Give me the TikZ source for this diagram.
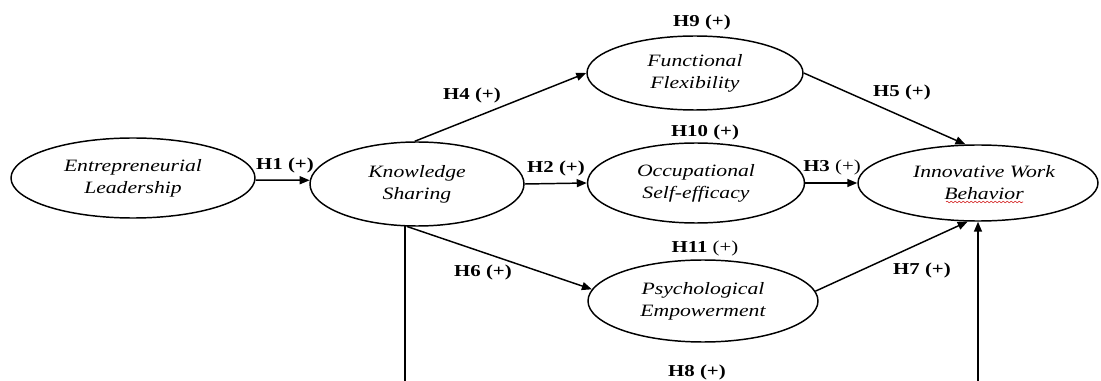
\documentclass[tikz,border=0pt]{standalone}
\usepackage{fontspec}
\setmainfont{Liberation Serif}[FakeStretch=1.25]
\usetikzlibrary{arrows.meta,shapes.geometric,decorations.pathmorphing}
\begin{document}
\begin{tikzpicture}[x=0.75pt,y=-0.75pt,
  var/.style={draw,ellipse,line width=1.1pt,inner sep=0pt,align=center,
    font=\fontsize{13}{16.5}\selectfont\itshape},
  arr/.style={line width=1.1pt,-{Triangle[length=7.5pt,width=6pt]}},
  lab/.style={font=\fontsize{12.5}{15}\selectfont\bfseries,inner sep=0pt}]
\useasboundingbox (0,0) rectangle (1101,381);
\clip (0,0) rectangle (1101,381);

% variables
\node[var,minimum width=183pt,minimum height=60pt] (EL) at (133,178) {Entrepreneurial\\Leadership};
\node[var,minimum width=160.5pt,minimum height=63pt] (KS) at (417,184) {Knowledge\\Sharing};
\node[var,minimum width=162pt,minimum height=55.5pt] (FF) at (695,73) {Functional\\Flexibility};
\node[var,minimum width=162.75pt,minimum height=60pt] (OS) at (696,183) {Occupational\\Self-efficacy};
\node[var,minimum width=172.5pt,minimum height=61.5pt] (PE) at (703,301) {Psychological\\Empowerment};
\node[var,minimum width=180pt,minimum height=57pt] (IWB) at (978,183) {\hspace*{9pt}Innovative Work\\\hspace*{9pt}Behavior};

% spelling underline
\coordinate (u1) at (946,202);
\coordinate (u2) at (1023,202);
\draw[red!80!black,line width=0.4pt,decorate,decoration={snake,amplitude=0.6pt,segment length=3pt}] (u1) -- (u2);

% connectors
\draw[arr] (EL.-1.5) -- (KS.178.5);
\draw[arr] (KS.east) -- (OS.west);
\draw[arr] (OS.east) -- (IWB.west);
\draw[arr] (KS.93) -- (FF.west);
\draw[arr] (FF.east) -- (IWB.108);
\draw[arr] (KS.257) -- (PE.174);
\draw[arr] (PE.5) -- (IWB.255);
\coordinate (low) at (405,400);
\draw[arr] (KS.254) -- (KS.254 |- low) -- (IWB.south |- low) -- (IWB.south);

% labels
\node[lab] (h1) at (285,165) {H1 (+)};
\node[lab] (h2) at (556,168) {H2 (+)};
\node[lab] (h3) at (832,167) {H3 \mdseries(+)};
\node[lab] (h4) at (472,95) {H4 (+)};
\node[lab] (h5) at (902,92) {H5 (+)};
\node[lab] (h6) at (483,272) {H6 (+)};
\node[lab] (h7) at (922,270) {H7 (+)};
\node[lab] (h8) at (697,372) {H8 (+)};
\node[lab] (h9) at (702,22) {H9 (+)};
\node[lab] (h10) at (705,132) {H10 (+)};
\node[lab] (h11) at (705,248) {H11 \mdseries(+)};
\end{tikzpicture}
\end{document}
